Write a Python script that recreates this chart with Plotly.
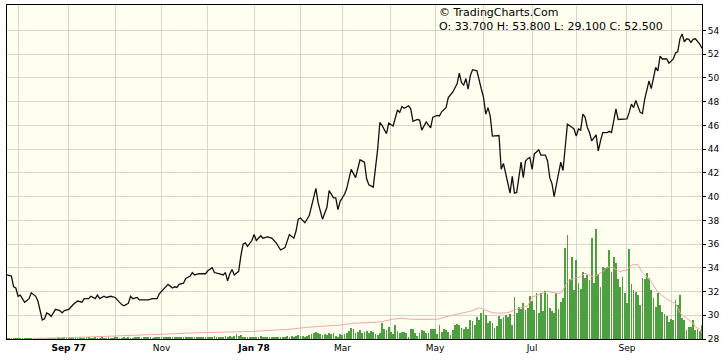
import pandas as pd
import plotly.graph_objects as go

# ---------------- data ----------------
holidays = ['1977-09-05', '1977-11-24', '1977-12-26', '1978-01-02', '1978-02-20',
            '1978-03-24', '1978-05-29', '1978-07-04', '1978-09-04']
first_day = '1977-07-25'
last_day = '1978-10-20'

month_labels = {
    '1977-08': '', '1977-09': '<b>Sep 77</b>', '1977-10': '', '1977-11': 'Nov',
    '1977-12': '', '1978-01': '<b>Jan 78</b>', '1978-02': '', '1978-03': 'Mar',
    '1978-04': '', '1978-05': 'May', '1978-06': '', '1978-07': 'Jul',
    '1978-08': '', '1978-09': 'Sep', '1978-10': '',
}

price_day = [0, 2, 3, 4, 5, 6, 8, 10, 11, 13, 14, 15, 16, 17, 18, 19, 20, 21, 22, 24, 25, 26, 28, 29, 30,
             32, 34, 35, 37, 38, 40, 41, 42, 44, 45, 47, 49, 50, 52, 53, 55, 56, 57, 59, 60, 62, 64, 66,
             68, 69, 71, 72, 73, 75, 76, 77, 78, 80, 81, 83, 84, 85, 87, 90, 91, 93, 94, 96, 98, 99,
             100, 101, 102, 103, 105, 106, 107, 108, 109, 111, 112, 113, 115, 116, 118, 120, 122, 124,
             126, 128, 130, 131, 132, 133, 135, 137, 138, 140, 141, 143, 145, 146, 148, 149, 150, 151,
             153, 154, 156, 158, 160, 162, 163, 164, 166, 168, 169, 170, 172, 173, 175, 177, 178, 179,
             180, 182, 183, 184, 186, 187, 188, 190, 192, 193, 195, 196, 197, 199, 200, 202, 204, 205,
             206, 207, 208, 209, 210, 211, 213, 214, 215, 216, 217, 218, 219, 220, 221, 223, 224, 225,
             228, 229, 230, 231, 233, 234, 235, 236, 237, 238, 239, 241, 242, 244, 245, 246, 247, 248,
             249, 250, 251, 252, 253, 254, 256, 257, 258, 259, 260, 261, 262, 263, 264, 265, 267, 268,
             269, 270, 272, 273, 274, 276, 277, 278, 280, 281, 282, 283, 284, 285, 286, 287, 288, 289,
             291, 292, 294, 295, 296, 297, 299, 300, 302, 303, 304, 305, 306, 307, 308, 309, 310, 311,
             312, 313, 314, 315]
price = [33.4, 33.3, 32.4, 32.3, 31.6, 31.7, 31.1, 31.4, 31.9, 31.6, 31.2, 30.4, 29.6, 29.7, 30.2, 30.1,
         29.9, 30.2, 30.5, 30.4, 30.2, 30.4, 30.5, 30.7, 30.9,
         31.2, 31.1, 31.4, 31.4, 31.6, 31.4, 31.7, 31.4, 31.6, 31.5, 31.6, 31.5, 31.3, 30.9, 30.8, 31.0,
         31.6, 31.4, 31.5, 31.3, 31.3, 31.3, 31.4,
         31.4, 31.8, 32.2, 32.4, 32.6, 32.3, 32.4, 32.35, 32.6, 32.7, 33.1, 33.3, 33.6, 33.4, 33.5, 33.5,
         33.75, 34.0, 33.6, 33.5, 33.4, 33.6,
         32.9, 33.5, 33.85, 33.4, 33.7, 35.0, 36.0, 36.1, 35.8, 36.3, 36.8, 36.3, 36.7, 36.5, 36.6, 36.5,
         36.1, 35.5,
         35.7, 36.8, 36.5, 37.1, 38.1, 38.2, 37.8, 38.4, 39.1, 40.7, 39.5, 38.1, 39.1, 40.5, 39.9, 39.9,
         38.9, 39.6,
         40.2, 40.7, 42.3, 41.6, 43.1, 42.9, 41.5, 41.0, 40.8, 44.0, 46.25, 46.0, 45.3, 46.2, 45.95, 47.3,
         47.1, 47.6,
         47.45, 47.65, 47.4, 46.35, 46.5, 46.45, 45.6, 46.3, 45.8, 46.7, 46.85, 46.8, 47.15, 47.5, 48.35,
         48.8, 49.5, 50.4,
         49.6, 49.4, 49.95, 49.05, 50.2, 50.7, 50.6, 49.75, 49.05, 48.35, 46.95, 47.5, 46.8, 45.1, 45.1,
         45.15, 42.3, 42.8,
         40.3, 41.7, 40.3, 40.35, 42.9, 41.6, 43.0, 43.2, 43.3, 42.3, 43.6, 43.95, 43.5, 43.5, 43.0, 41.6,
         41.1, 40.0,
         41.0, 42.05, 42.9, 42.2, 44.3, 46.1, 45.85, 45.7, 45.1, 45.7, 45.6, 46.95, 46.7, 45.85, 45.4, 44.7,
         45.2, 43.85,
         44.7, 45.4, 45.4, 45.5, 45.4, 47.4, 46.5, 46.5, 46.5, 46.55, 47.1, 47.8, 47.5, 48.1, 47.6, 47.1,
         47.0, 48.2,
         49.75, 49.1, 50.9, 50.6, 51.85, 51.6, 51.6, 51.25, 51.6, 52.1, 52.2, 53.3, 53.7, 53.05, 53.3,
         53.25, 53.0, 53.25,
         53.3, 53.1, 52.85, 52.5]

# daily volume (relative units), one value per trading day
volume = [
    0.5, 0.4, 0.6, 0.5, 0.4, 0.5, 0.6, 0.4, 0.5, 0.5, 0.4, 0.6, 0.5, 0.5, 0.4, 0.6, 0.8, 1.0, 0.7, 0.6,
    0.8, 1.0, 0.9, 1.1, 0.8, 1.0, 1.2, 0.9, 1.0, 0.8, 1.1, 1.0, 0.9, 1.2, 1.0, 0.8, 1.1, 1.3, 0.9, 1.0,
    1.2, 0.9, 1.0, 1.1, 0.8, 1.0, 1.2, 1.0, 0.9, 1.1, 1.3, 1.0, 0.9, 1.2, 1.0, 1.1, 0.9, 1.0, 1.2, 1.1,
    1.2, 1.0, 1.3, 1.1, 1.4, 1.2, 1.0, 1.3, 1.5, 1.6, 1.4, 1.2, 1.5, 1.3, 1.6, 1.4, 1.7, 1.3, 1.5, 1.8,
    1.4, 1.6, 2.0, 1.5, 1.7, 1.9, 1.5, 2.2, 1.6, 1.8,
    2.0, 1.7, 2.3, 1.8, 2.6, 2.0, 1.8, 2.5, 2.1, 2.8, 2.2, 3.0, 2.4, 3.3, 4.7, 3.0,
    4.0, 2.3, 2.0, 2.0, 1.7, 2.0, 1.7, 2.3, 2.0, 3.0, 2.0, 1.7, 2.3, 1.7, 1.3, 2.0, 1.7, 1.3, 2.0, 1.7,
    2.3, 3.0, 2.3, 3.0, 2.3, 2.7, 4.0, 3.0, 2.7, 2.3, 3.3, 4.0, 5.0, 6.0, 7.3, 5.7, 4.7, 4.0, 5.0, 4.0,
    5.7, 4.7, 6.3, 3.5, 2.3, 5.0, 4.0, 5.0, 6.3, 8.0, 10.7, 9.7, 6.3, 7.3, 9.0, 6.3, 7.0, 8.3, 5.7, 8.3,
    7.3, 5.5, 4.0, 6.3,
    16.5, 9.7, 9.0, 11.7, 7.3, 5.0, 14.0, 8.3, 5.7, 7.3, 6.7, 6.3, 2.3, 9.7, 9.7, 5.7, 3.0, 6.3, 9.0, 8.0,
    6.3, 5.7, 9.7, 9.7, 9.7, 4.7, 14.0, 7.3, 9.7, 9.0, 7.3, 4.0, 9.0, 14.0, 15.0, 14.0, 11.3, 9.7, 11.7, 9.7,
    19.0, 18.3, 14.0, 21.7, 19.0, 26.3, 29.0, 24.0, 16.3, 18.3, 16.3, 10.7, 13.0, 23.0, 19.7, 22.3, 24.0,
    22.3, 25.0, 14.0,
    41.7, 26.3, 32.3, 29.7, 35.7, 29.0, 30.7, 43.0, 38.3, 29.0, 45.7, 26.3, 46.3, 28.3, 48.3, 45.0, 30.7,
    28.3, 26.3, 45.7,
    30.0, 37.3, 41.3, 91.3, 104.0, 60.0, 82.3, 49.0, 79.0, 55.7, 50.0, 67.3, 60.7, 64.0, 59.0, 101.3, 55.7,
    110.0, 65.0, 52.3,
    72.3, 71.3, 72.3, 89.0, 67.3, 82.3, 75.7, 60.0, 52.3, 62.3, 45.7, 35.7, 90.0, 55.0, 49.0, 47.3, 44.0,
    34.0, 60.7, 60.0,
    65.7, 60.7, 49.0, 40.7, 32.3, 45.7, 34.0, 26.7, 25.0, 23.3, 17.3, 20.0, 19.0, 39.0, 34.0, 44.0, 20.7,
    19.0, 9.0, 12.3,
    12.3, 19.0, 9.0, 10.0, 8.0, 14.0,
]

# volume moving average, read at these trading days
ma_day = [12, 33, 69, 87, 110, 128, 136, 151, 157, 169, 175, 178, 184, 187, 195, 199, 207, 211, 214,
          218, 220, 223, 227, 229, 233, 236, 238, 242, 245, 248, 251, 252, 254, 255, 257, 260, 262, 266,
          269, 270, 272, 273, 275, 278, 279, 281, 283, 286, 288, 291, 295, 299, 302, 303, 305, 306, 308,
          311, 312, 314, 315]
volume_ma = [0.5, 1.7, 4.7, 6.3, 7.5, 9.7, 11.7, 14.0, 15.7, 17.0, 19.8, 20.7, 19.7, 19.7, 19.7, 22.3,
             26.3, 28.3, 31.2, 28.0, 26.3, 25.7, 26.3, 28.0, 31.7, 33.0, 42.0, 45.0, 48.0, 46.0, 45.7,
             49.0, 57.3, 59.0, 60.7, 62.3, 65.7, 62.0, 65.7, 67.3, 71.7, 72.3, 70.7, 67.3, 68.3, 69.0,
             74.0, 74.5, 66.5, 60.0, 47.0, 40.0, 36.3, 35.7, 26.3, 24.0, 20.7, 15.7, 12.0, 9.7, 5.7]

header = ['© TradingCharts.Com', 'O: 33.700 H: 53.800 L: 29.100 C: 52.500']
price_ticks = list(range(28, 55, 2))

# ---------------- build ----------------
days = pd.bdate_range(first_day, last_day, freq='C', holidays=holidays)
dates = [d.strftime('%Y-%m-%d') for d in days]

tick_dates, tick_text = [], []
prev = None
for d in dates:
    m = d[:7]
    if m != prev and m in month_labels:
        tick_dates.append(d)
        tick_text.append(month_labels[m])
    prev = m

GRID = '#D6D6CE'
FONT = 'DejaVu Sans'

fig = go.Figure()
fig.add_trace(go.Scatter(x=[dates[i] for i in price_day], y=price, mode='lines',
                         line=dict(color='#111111', width=1.3), yaxis='y', hoverinfo='skip'))
fig.add_trace(go.Bar(x=dates, y=volume, marker=dict(color='#4E9E42', line=dict(width=0)),
                     width=0.36, yaxis='y2', hoverinfo='skip'))
fig.add_trace(go.Scatter(x=[dates[i] for i in ma_day], y=volume_ma, mode='lines',
                         line=dict(color='#F2A6A6', width=1), yaxis='y2', hoverinfo='skip'))

fig.update_layout(
    width=728, height=360,
    margin=dict(l=7, r=26, t=5, b=21),
    paper_bgcolor='white', plot_bgcolor='#FFFFF0',
    showlegend=False, bargap=0,
    font=dict(family=FONT, size=9, color='black'),
    xaxis=dict(type='category', categoryorder='array', categoryarray=dates,
               range=[0, len(dates) - 1], tickmode='array', tickvals=tick_dates, ticktext=tick_text,
               showgrid=True, gridcolor=GRID, gridwidth=1, showline=True, mirror=True,
               linecolor='black', linewidth=1, ticks='', tickfont=dict(family=FONT, size=9)),
    yaxis=dict(side='right', range=[28, 56.15], tickmode='array', tickvals=price_ticks,
               showgrid=True, gridcolor=GRID, gridwidth=1, showline=True, mirror=True,
               linecolor='black', linewidth=1, ticks='outside', ticklen=3, tickcolor='black',
               zeroline=False, tickfont=dict(family=FONT, size=9)),
    yaxis2=dict(overlaying='y', range=[0, 334], visible=False),
)

fig.add_annotation(xref='paper', yref='paper', x=(437 - 7) / 695, y=(339 - 13) / 334,
                   text=header[0], showarrow=False, xanchor='left', yanchor='middle',
                   font=dict(family=FONT, size=11, color='black'))
fig.add_annotation(xref='paper', yref='paper', x=(437 - 7) / 695, y=(339 - 26) / 334,
                   text=header[1], showarrow=False, xanchor='left', yanchor='middle',
                   font=dict(family=FONT, size=11, color='black'))

fig.write_html('out.html', config={'displayModeBar': False},
               post_script="document.body.style.margin='0';")
